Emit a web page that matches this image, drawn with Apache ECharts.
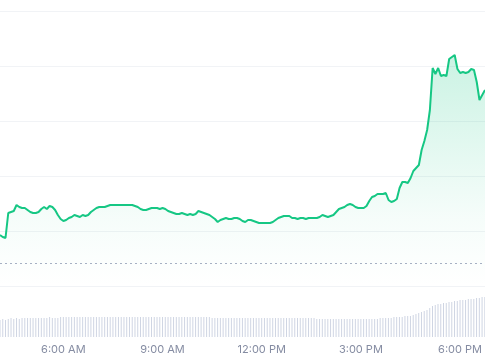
<!DOCTYPE html>
<html>
<head>
<meta charset="utf-8">
<script src="https://cdn.jsdelivr.net/npm/echarts@6/dist/echarts.min.js"></script>
<style>
html,body{margin:0;padding:0;background:#fff;}
#chart{width:485px;height:360px;}
</style>
</head>
<body>
<div id="chart"></div>
<script>
// 5-minute steps from 4:05 AM to 6:45 PM
var startMinutes = 4 * 60 + 5;
var stepMinutes = 5;
var pointCount = 177;

var tickLabels = ["6:00 AM", "9:00 AM", "12:00 PM", "3:00 PM", "6:00 PM"];

// price (relative units)
var price = [
  51, 49, 48, 73, 74, 75, 81, 79, 78, 78,
  76, 74, 73, 73, 74, 77, 79, 77, 80, 79,
  76, 71, 67, 65, 66, 68, 69, 71, 70, 69,
  71, 70, 71, 74, 76, 78, 79, 79, 79, 80,
  81, 81, 81, 81, 81, 81, 81, 81, 81, 80,
  79, 77, 76, 76, 77, 78, 78, 78, 77, 78,
  77, 75, 74, 73, 72, 72, 73, 72, 71, 72,
  71, 72, 75, 74, 73, 72, 71, 69, 67, 64,
  66, 67, 68, 67, 67, 68, 68, 67, 65, 64,
  66, 66, 65, 64, 63, 63, 63, 63, 63, 64,
  66, 68, 69, 70, 70, 70, 68, 68, 67, 68,
  68, 67, 68, 68, 68, 68, 69, 71, 70, 69,
  70, 71, 74, 77, 78, 79, 81, 82, 81, 79,
  78, 78, 78, 80, 85, 89, 90, 92, 92, 92,
  93, 86, 84, 85, 87, 98, 104, 104, 103, 108,
  115, 118, 121, 136, 145, 156, 176, 218, 212, 218,
  210, 211, 210, 227, 229, 231, 217, 213, 214, 213,
  214, 217, 216, 204, 186, 191, 196
];

// volume (relative units)
var volume = [
  17, 18, 17, 18, 19, 18, 19, 18, 19, 19,
  19, 19, 19, 19, 19, 19, 19, 19, 20, 19,
  19, 19, 20, 20, 20, 20, 20, 20, 20, 20,
  20, 20, 20, 20, 20, 20, 20, 20, 20, 20,
  20, 20, 20, 20, 20, 20, 20, 20, 20, 20,
  20, 20, 20, 20, 20, 20, 20, 20, 20, 20,
  20, 20, 20, 20, 20, 20, 20, 20, 20, 20,
  20, 20, 20, 20, 20, 20, 20, 19, 19, 19,
  19, 19, 19, 19, 19, 19, 19, 19, 19, 19,
  19, 19, 19, 19, 19, 19, 19, 19, 19, 19,
  19, 19, 19, 19, 19, 19, 19, 19, 19, 19,
  19, 19, 19, 19, 19, 18, 18, 18, 18, 18,
  18, 18, 18, 18, 18, 18, 18, 18, 18, 18,
  18, 18, 18, 18, 18, 18, 18, 18, 19, 19,
  19, 19, 19, 20, 20, 20, 20, 21, 21, 21,
  22, 23, 24, 25, 26, 27, 29, 31, 32, 33,
  33, 34, 34, 35, 35, 36, 36, 37, 37, 37,
  38, 38, 38, 39, 39, 40, 40
];

var referencePrice = 23;

function fmtTime(m) {
  var h = Math.floor(m / 60), mm = m % 60;
  var ap = h >= 12 ? "PM" : "AM";
  var h12 = h % 12; if (h12 === 0) h12 = 12;
  return h12 + ":" + (mm < 10 ? "0" : "") + mm + " " + ap;
}
var times = [];
for (var i = 0; i < pointCount; i++) times.push(fmtTime(startMinutes + i * stepMinutes));

var chart = echarts.init(document.getElementById('chart'));
chart.setOption({
  animation: false,
  backgroundColor: '#ffffff',
  grid: [
    { left: 0, right: 0, top: 11, bottom: 74 },
    { left: 0, right: 0, top: 290, bottom: 23 }
  ],
  xAxis: [
    { type: 'category', gridIndex: 0, data: times, boundaryGap: false,
      axisLine: { show: false }, axisTick: { show: false }, axisLabel: { show: false },
      splitLine: { show: false } },
    { type: 'category', gridIndex: 1, data: times, boundaryGap: false,
      axisLine: { show: false }, axisTick: { show: false },
      axisLabel: {
        show: true,
        interval: function (idx, val) { return tickLabels.indexOf(val) >= 0; },
        color: '#858ca2', fontSize: 11, fontFamily: 'Inter', margin: 7
      },
      splitLine: { show: false } }
  ],
  yAxis: [
    { type: 'value', gridIndex: 0, min: 0, max: 275, interval: 55,
      axisLine: { show: false }, axisTick: { show: false }, axisLabel: { show: false },
      splitLine: { show: true, lineStyle: { color: '#f1f3f6', width: 1 } } },
    { type: 'value', gridIndex: 1, min: 0, max: 47,
      axisLine: { show: false }, axisTick: { show: false }, axisLabel: { show: false },
      splitLine: { show: false } }
  ],
  series: [
    {
      type: 'line', xAxisIndex: 0, yAxisIndex: 0, data: price,
      symbol: 'none', smooth: false,
      lineStyle: { color: '#16c784', width: 2 },
      areaStyle: {
        color: new echarts.graphic.LinearGradient(0, 0, 0, 1, [
          { offset: 0, color: 'rgba(22,199,132,0.32)' },
          { offset: 0.7, color: 'rgba(22,199,132,0.06)' },
          { offset: 1, color: 'rgba(22,199,132,0)' }
        ])
      },
      markLine: {
        silent: true, symbol: 'none', label: { show: false },
        lineStyle: { color: '#a6b0c3', type: [2, 3], width: 1 },
        data: [{ yAxis: referencePrice }]
      }
    },
    {
      type: 'bar', xAxisIndex: 1, yAxisIndex: 1, data: volume,
      barWidth: 1, itemStyle: { color: '#cfd5e3' }
    }
  ]
});
</script>
</body>
</html>
